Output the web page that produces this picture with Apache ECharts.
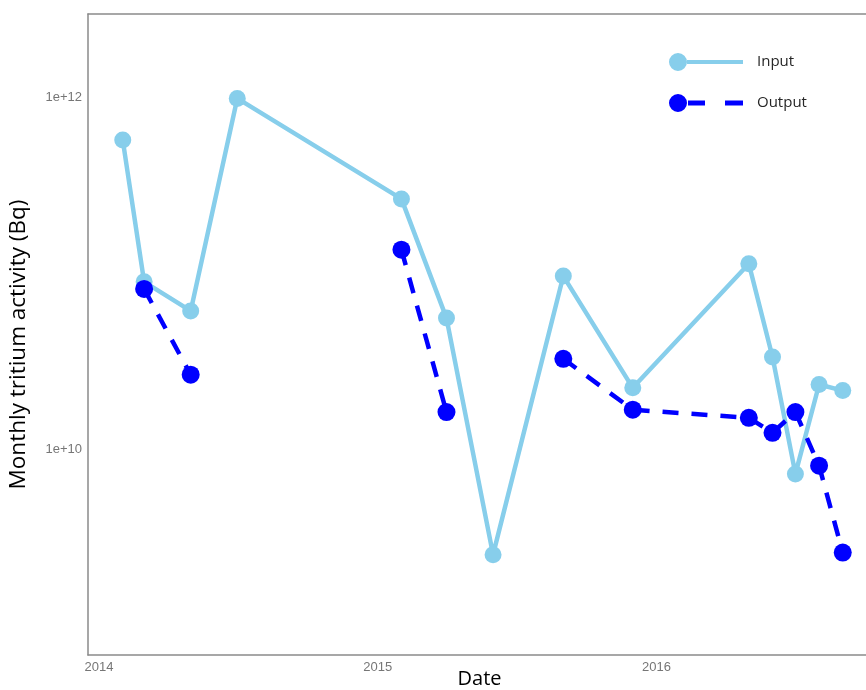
<!DOCTYPE html>
<html>
<head>
<meta charset="utf-8">
<script src="https://cdn.jsdelivr.net/npm/echarts@6/dist/echarts.min.js"></script>
<style>
  html, body { margin: 0; padding: 0; background: #fff; }
  #chart { width: 866px; height: 690px; }
</style>
</head>
<body>
<div id="chart"></div>
<script>
// ---- data ----
const dates = ['2014-02-01','2014-03-01','2014-05-01','2014-07-01','2015-02-01','2015-04-01','2015-06-01',
               '2015-09-01','2015-12-01','2016-05-01','2016-06-01','2016-07-01','2016-08-01','2016-09-01'];
const inputValues  = [5.75e11, 9.0e10, 6.15e10, 9.9e11, 2.66e11, 5.6e10, 2.54e9,
                      9.7e10, 2.25e10, 1.14e11, 3.37e10, 7.3e9, 2.35e10, 2.17e10];
const outputValues = [null, 8.2e10, 2.67e10, null, 1.37e11, 1.64e10, null,
                      3.29e10, 1.69e10, 1.52e10, 1.25e10, 1.64e10, 8.13e9, 2.61e9];
const yTickValues = [1e10, 1e12];
const yTickLabels = ['1e+10', '1e+12'];
const xTickYears  = [2014, 2015, 2016];
const xTickLabels = ['2014', '2015', '2016'];
const seriesNames = ['Input', 'Output'];

const inputIcon  = 'path://M0,9 A9,9 0 1,0 18,9 A9,9 0 1,0 0,9 Z M18,7 L74,7 L74,11 L18,11 Z';
const outputIcon = 'path://M0,9 A9,9 0 1,0 18,9 A9,9 0 1,0 0,9 Z M19,6.5 L36,6.5 L36,11.5 L19,11.5 Z M56,6.5 L74,6.5 L74,11.5 L56,11.5 Z';

const chart = echarts.init(document.getElementById('chart'));
const tickFont = { fontFamily: 'Liberation Sans, Arial, sans-serif', fontSize: 13, color: '#767676' };
const frameLine = { show: true, onZero: false, lineStyle: { color: '#8a8a8a', width: 1.5 } };
const xMin = new Date(2013, 11, 17, 12).getTime();
const xMax = new Date(2016, 9, 8).getTime();

chart.setOption({
  animation: false,
  backgroundColor: '#ffffff',
  grid: {
    left: 88, top: 14, bottom: 35, right: -5,
    outerBoundsMode: 'none',
    containLabel: false,
    show: false
  },
  legend: {
    orient: 'vertical',
    left: 664, top: 48,
    itemWidth: 74, itemHeight: 18, itemGap: 23,
    itemStyle: { borderWidth: 0 },
    textStyle: { fontFamily: 'Open Sans, sans-serif', fontSize: 15, color: '#262626', padding: [0, 0, 0, 9] },
    data: [
      { name: seriesNames[0], icon: inputIcon },
      { name: seriesNames[1], icon: outputIcon }
    ]
  },
  xAxis: [{
    type: 'time',
    position: 'bottom',
    min: xMin,
    max: xMax,
    splitNumber: 3,
    minInterval: 365 * 86400000,
    name: 'Date',
    nameLocation: 'middle',
    nameGap: 14,
    nameMoveOverlap: false,
    nameTextStyle: { fontFamily: 'Open Sans, sans-serif', fontSize: 20, color: '#000' },
    axisLine: frameLine,
    axisTick: { show: false },
    splitLine: { show: false },
    axisLabel: Object.assign({}, tickFont, {
      margin: 6,
      showMinLabel: false, showMaxLabel: false,
      formatter: function (v) {
        const d = new Date(v);
        const i = xTickYears.indexOf(d.getFullYear());
        if (i >= 0 && d.getMonth() === 0 && d.getDate() === 1) return xTickLabels[i];
        return '';
      }
    })
  }, {
    type: 'time',
    position: 'top',
    min: xMin,
    max: xMax,
    axisLine: frameLine,
    axisTick: { show: false },
    axisLabel: { show: false },
    splitLine: { show: false }
  }],
  yAxis: {
    type: 'log',
    logBase: 10,
    min: 6.84e8,
    max: 2.985e12,
    name: 'Monthly tritium activity (Bq)',
    nameLocation: 'middle',
    nameGap: 58,
    nameMoveOverlap: false,
    nameTextStyle: { fontFamily: 'Open Sans, sans-serif', fontSize: 22.5, color: '#000', padding: [0, 20, 0, 0] },
    axisLine: frameLine,
    axisTick: { show: false },
    splitLine: { show: false },
    axisLabel: Object.assign({}, tickFont, {
      margin: 6,
      showMinLabel: false, showMaxLabel: false,
      formatter: function (v) {
        for (let i = 0; i < yTickValues.length; i++) {
          if (Math.abs(Math.log10(v) - Math.log10(yTickValues[i])) < 1e-6) return yTickLabels[i];
        }
        return '';
      }
    })
  },
  series: [
    {
      name: seriesNames[0],
      type: 'line',
      xAxisIndex: 0,
      data: dates.map((d, i) => [d, inputValues[i]]),
      symbol: 'circle',
      symbolSize: 17,
      showAllSymbol: true,
      connectNulls: true,
      itemStyle: { color: '#87CEEB', borderWidth: 0 },
      lineStyle: { color: '#87CEEB', width: 4.5 },
      z: 2
    },
    {
      name: seriesNames[1],
      type: 'line',
      xAxisIndex: 0,
      data: dates.map((d, i) => [d, outputValues[i]]),
      symbol: 'circle',
      symbolSize: 18,
      showAllSymbol: true,
      connectNulls: false,
      itemStyle: { color: '#0000FF', borderWidth: 0 },
      lineStyle: { color: '#0000FF', width: 4.5, type: [16, 13] },
      z: 3
    }
  ]
});
</script>
</body>
</html>
